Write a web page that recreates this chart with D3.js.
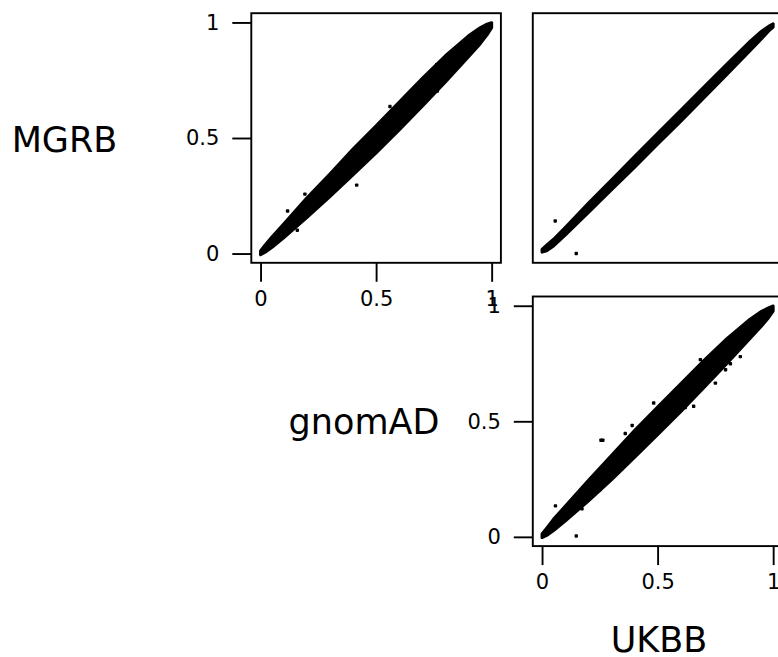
<!DOCTYPE html>
<html>
<head>
<meta charset="utf-8">
<script src="https://cdn.jsdelivr.net/npm/d3@7"></script>
<style>
  body { margin: 0; background: #fff; overflow: hidden; }
  svg { display: block; font-family: "DejaVu Sans", Verdana, sans-serif; }
  .tick line { stroke: #000; stroke-width: 1.9; }
  .varlabel { font-size: 35px; fill: #000; }
</style>
</head>
<body>
<div id="chart"></div>
<script>
// variables on the diagonal
var vars = ["MGRB", "gnomAD", "UKBB"];
var tickVals = [0, 0.5, 1];

// allele frequency band (x, lower y, upper y)
var bandX = [0, 0.02, 0.05, 0.1, 0.2, 0.3, 0.4, 0.5, 0.6, 0.7, 0.8, 0.9, 0.95, 0.98, 1.0];

// MGRB (y) vs gnomAD (x)
var mgrbGnomadLo = [-0.005, 0.006, 0.027, 0.068, 0.155, 0.246, 0.34, 0.435, 0.535, 0.638, 0.742, 0.852, 0.907, 0.946, 0.977];
var mgrbGnomadHi = [0.011, 0.037, 0.073, 0.128, 0.24, 0.344, 0.452, 0.553, 0.656, 0.758, 0.856, 0.942, 0.977, 0.993, 0.999];
var mgrbGnomadOutX = [0.416, 0.117, 0.159, 0.56, 0.765, 0.762, 0.935, 0.192];
var mgrbGnomadOutY = [0.296, 0.184, 0.101, 0.636, 0.703, 0.817, 0.901, 0.257];

// MGRB (y) vs UKBB (x)
var mgrbUkbbLo = [0.006, 0.012, 0.033, 0.08, 0.177, 0.275, 0.373, 0.473, 0.572, 0.673, 0.775, 0.878, 0.93, 0.962, 0.98];
var mgrbUkbbHi = [0.018, 0.036, 0.062, 0.113, 0.217, 0.318, 0.42, 0.52, 0.62, 0.72, 0.82, 0.918, 0.962, 0.983, 0.994];
var mgrbUkbbOutX = [0.057, 0.148];
var mgrbUkbbOutY = [0.141, 0.0];

// gnomAD (y) vs UKBB (x)
var gnomadUkbbLo = [-0.003, 0.006, 0.027, 0.068, 0.155, 0.246, 0.344, 0.442, 0.542, 0.645, 0.75, 0.858, 0.912, 0.948, 0.977];
var gnomadUkbbHi = [0.013, 0.038, 0.077, 0.132, 0.244, 0.352, 0.46, 0.562, 0.662, 0.763, 0.858, 0.942, 0.976, 0.991, 0.999];
var gnomadUkbbOutX = [0.255, 0.263, 0.148, 0.058, 0.39, 0.483, 0.685, 0.858, 0.794, 0.75, 0.656, 0.62, 0.252, 0.173, 0.36, 0.815];
var gnomadUkbbOutY = [0.418, 0.418, 0.004, 0.134, 0.482, 0.579, 0.767, 0.78, 0.723, 0.665, 0.565, 0.56, 0.205, 0.121, 0.447, 0.749];

var W = 778, H = 657;
var cell = 249.6;
var colX = [-31, 251.3, 532.8];
var rowY = [13.2, 296.5];

var svg = d3.select("#chart").append("svg")
    .attr("width", W)
    .attr("height", H);

var panels = [
  {row: 0, col: 1, lo: mgrbGnomadLo, hi: mgrbGnomadHi, ox: mgrbGnomadOutX, oy: mgrbGnomadOutY, axes: true},
  {row: 0, col: 2, lo: mgrbUkbbLo, hi: mgrbUkbbHi, ox: mgrbUkbbOutX, oy: mgrbUkbbOutY, axes: false},
  {row: 1, col: 2, lo: gnomadUkbbLo, hi: gnomadUkbbHi, ox: gnomadUkbbOutX, oy: gnomadUkbbOutY, axes: true}
];

function styleAxis(a) {
  a.select(".domain").remove();
  a.attr("font-family", null).attr("font-size", null);
  a.selectAll("text")
      .attr("fill", "#000")
      .style("font-family", "'DejaVu Sans', Verdana, sans-serif")
      .style("font-size", "21px");
}

panels.forEach(function(p) {
  var x0 = colX[p.col], y0 = rowY[p.row];
  // R style 4% padding around [0,1]
  var x = d3.scaleLinear().domain([-0.04, 1.04]).range([x0, x0 + cell]);
  var y = d3.scaleLinear().domain([-0.04, 1.04]).range([y0 + cell, y0]);

  var g = svg.append("g");

  var band = bandX.map(function(v, i) { return {x: v, lo: p.lo[i], hi: p.hi[i]}; });
  var area = d3.area()
      .x(function(d) { return x(d.x); })
      .y0(function(d) { return y(d.lo); })
      .y1(function(d) { return y(d.hi); });

  g.append("path")
      .datum(band)
      .attr("d", area)
      .attr("fill", "#000")
      .attr("stroke", "#000")
      .attr("stroke-width", 3)
      .attr("stroke-linejoin", "round");

  var pts = p.ox.map(function(v, i) { return [v, p.oy[i]]; });
  g.selectAll("rect.out")
      .data(pts)
    .enter().append("rect")
      .attr("class", "out")
      .attr("x", function(d) { return x(d[0]) - 1.7; })
      .attr("y", function(d) { return y(d[1]) - 1.7; })
      .attr("width", 3.4)
      .attr("height", 3.4)
      .attr("rx", 0.8)
      .attr("fill", "#000");

  // box
  g.append("rect")
      .attr("x", x0)
      .attr("y", y0)
      .attr("width", cell)
      .attr("height", cell)
      .attr("fill", "none")
      .attr("stroke", "#000")
      .attr("stroke-width", 1.9);

  if (p.axes) {
    var fmt = d3.format("~g");
    var ax = svg.append("g")
        .attr("transform", "translate(0," + (y0 + cell) + ")")
        .call(d3.axisBottom(x).tickValues(tickVals).tickFormat(fmt).tickSize(19).tickSizeOuter(0).tickPadding(9));
    styleAxis(ax);

    var ay = svg.append("g")
        .attr("transform", "translate(" + x0 + ",0)")
        .call(d3.axisLeft(y).tickValues(tickVals).tickFormat(fmt).tickSize(19).tickSizeOuter(0).tickPadding(13));
    styleAxis(ay);
  }
});

// diagonal labels
var labelPos = [[64.5, 152], [364, 434], [659, 652]];
svg.selectAll("text.varlabel")
    .data(vars)
  .enter().append("text")
    .attr("class", "varlabel")
    .attr("text-anchor", "middle")
    .attr("x", function(d, i) { return labelPos[i][0]; })
    .attr("y", function(d, i) { return labelPos[i][1]; })
    .text(function(d) { return d; });
</script>
</body>
</html>
